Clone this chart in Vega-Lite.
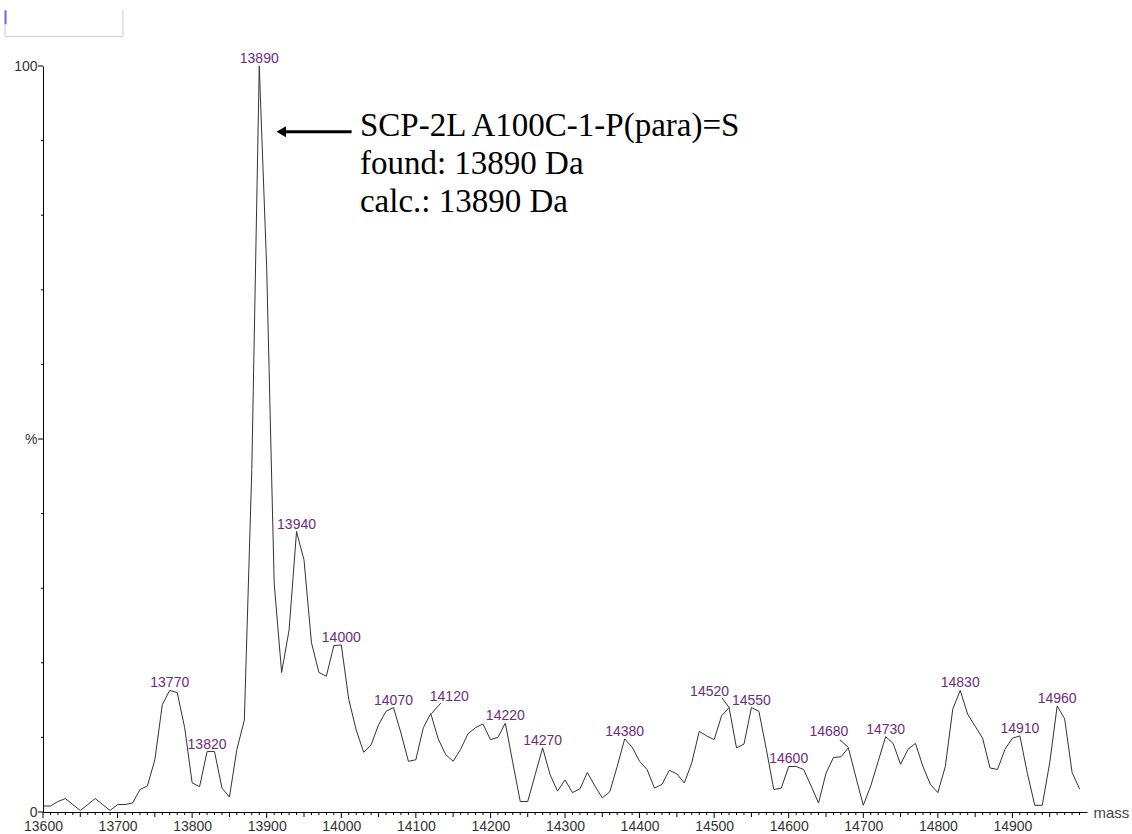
{
  "$schema": "https://vega.github.io/schema/vega-lite/v6.json",
  "width": 1044,
  "height": 746,
  "autosize": "none",
  "padding": {"left": 43, "top": 66, "right": 45, "bottom": 22},
  "background": "white",
  "config": {
    "view": {"stroke": null},
    "axis": {"labelFont": "Liberation Sans", "labelFontSize": 14, "labelColor": "#333", "domainColor": "#000", "grid": false, "domainWidth": 1, "labelOverlap": false, "labelFlush": false, "ticks": false}
  },
  "datasets": {
    "main": [
      {"mass": 13600, "value": 0.8}, {"mass": 13610, "value": 0.8}, {"mass": 13620, "value": 1.4}, {"mass": 13630, "value": 1.8},
      {"mass": 13640, "value": 1.0}, {"mass": 13650, "value": 0.2}, {"mass": 13660, "value": 1.0}, {"mass": 13670, "value": 1.8},
      {"mass": 13680, "value": 1.0}, {"mass": 13690, "value": 0.2}, {"mass": 13700, "value": 1.0}, {"mass": 13710, "value": 1.0},
      {"mass": 13720, "value": 1.2}, {"mass": 13730, "value": 3.0}, {"mass": 13740, "value": 3.5}, {"mass": 13750, "value": 7.0},
      {"mass": 13760, "value": 14.4}, {"mass": 13770, "value": 16.3}, {"mass": 13780, "value": 16.0}, {"mass": 13790, "value": 11.3},
      {"mass": 13800, "value": 3.9}, {"mass": 13810, "value": 3.4}, {"mass": 13820, "value": 8.1}, {"mass": 13830, "value": 8.1},
      {"mass": 13840, "value": 3.2}, {"mass": 13850, "value": 2.0}, {"mass": 13860, "value": 8.4}, {"mass": 13870, "value": 12.3},
      {"mass": 13880, "value": 45.9}, {"mass": 13890, "value": 100}, {"mass": 13900, "value": 72.8}, {"mass": 13910, "value": 30.7},
      {"mass": 13920, "value": 18.7}, {"mass": 13930, "value": 24.4}, {"mass": 13940, "value": 37.6}, {"mass": 13950, "value": 33.8},
      {"mass": 13960, "value": 22.7}, {"mass": 13970, "value": 18.7}, {"mass": 13980, "value": 18.2}, {"mass": 13990, "value": 22.3},
      {"mass": 14000, "value": 22.4}, {"mass": 14010, "value": 15.1}, {"mass": 14020, "value": 11.0}, {"mass": 14030, "value": 8.0},
      {"mass": 14040, "value": 9.0}, {"mass": 14050, "value": 11.7}, {"mass": 14060, "value": 13.5}, {"mass": 14070, "value": 14.0},
      {"mass": 14080, "value": 10.6}, {"mass": 14090, "value": 6.8}, {"mass": 14100, "value": 7.0}, {"mass": 14110, "value": 11.3},
      {"mass": 14120, "value": 13.2}, {"mass": 14130, "value": 9.8}, {"mass": 14140, "value": 7.7}, {"mass": 14150, "value": 6.8},
      {"mass": 14160, "value": 8.4}, {"mass": 14170, "value": 10.5}, {"mass": 14180, "value": 11.3}, {"mass": 14190, "value": 11.8},
      {"mass": 14200, "value": 9.7}, {"mass": 14210, "value": 10.0}, {"mass": 14220, "value": 11.9}, {"mass": 14230, "value": 6.6},
      {"mass": 14240, "value": 1.4}, {"mass": 14250, "value": 1.4}, {"mass": 14260, "value": 5.0}, {"mass": 14270, "value": 8.6},
      {"mass": 14280, "value": 5.0}, {"mass": 14290, "value": 2.8}, {"mass": 14300, "value": 4.3}, {"mass": 14310, "value": 2.6},
      {"mass": 14320, "value": 3.1}, {"mass": 14330, "value": 5.3}, {"mass": 14340, "value": 3.5}, {"mass": 14350, "value": 1.9},
      {"mass": 14360, "value": 2.7}, {"mass": 14370, "value": 6.1}, {"mass": 14380, "value": 9.8}, {"mass": 14390, "value": 8.7},
      {"mass": 14400, "value": 6.8}, {"mass": 14410, "value": 5.7}, {"mass": 14420, "value": 3.2}, {"mass": 14430, "value": 3.7},
      {"mass": 14440, "value": 5.6}, {"mass": 14450, "value": 5.1}, {"mass": 14460, "value": 3.9}, {"mass": 14470, "value": 6.6},
      {"mass": 14480, "value": 10.8}, {"mass": 14490, "value": 10.2}, {"mass": 14500, "value": 9.7}, {"mass": 14510, "value": 12.9},
      {"mass": 14520, "value": 14.0}, {"mass": 14530, "value": 8.6}, {"mass": 14540, "value": 9.1}, {"mass": 14550, "value": 14.0},
      {"mass": 14560, "value": 13.5}, {"mass": 14570, "value": 8.4}, {"mass": 14580, "value": 3.0}, {"mass": 14590, "value": 3.2},
      {"mass": 14600, "value": 6.1}, {"mass": 14610, "value": 6.1}, {"mass": 14620, "value": 5.7}, {"mass": 14630, "value": 3.5},
      {"mass": 14640, "value": 1.2}, {"mass": 14650, "value": 5.2}, {"mass": 14660, "value": 7.3}, {"mass": 14670, "value": 7.4},
      {"mass": 14680, "value": 8.6}, {"mass": 14690, "value": 4.7}, {"mass": 14700, "value": 0.9}, {"mass": 14710, "value": 3.5},
      {"mass": 14720, "value": 6.8}, {"mass": 14730, "value": 10.1}, {"mass": 14740, "value": 9.2}, {"mass": 14750, "value": 6.4},
      {"mass": 14760, "value": 8.4}, {"mass": 14770, "value": 9.2}, {"mass": 14780, "value": 6.1}, {"mass": 14790, "value": 3.7},
      {"mass": 14800, "value": 2.6}, {"mass": 14810, "value": 6.1}, {"mass": 14820, "value": 13.8}, {"mass": 14830, "value": 16.3},
      {"mass": 14840, "value": 13.1}, {"mass": 14850, "value": 11.5}, {"mass": 14860, "value": 9.9}, {"mass": 14870, "value": 5.9},
      {"mass": 14880, "value": 5.7}, {"mass": 14890, "value": 8.4}, {"mass": 14900, "value": 9.9}, {"mass": 14910, "value": 10.2},
      {"mass": 14920, "value": 5.2}, {"mass": 14930, "value": 0.9}, {"mass": 14940, "value": 0.9}, {"mass": 14950, "value": 6.6},
      {"mass": 14960, "value": 14.2}, {"mass": 14970, "value": 12.5}, {"mass": 14980, "value": 5.3}, {"mass": 14990, "value": 3.1}
    ],
    "peaks": [
      {"mass": 13770, "value": 16.3, "label": "13770"}, {"mass": 13820, "value": 8.1, "label": "13820"},
      {"mass": 13890, "value": 100, "label": "13890"}, {"mass": 13940, "value": 37.6, "label": "13940"},
      {"mass": 14000, "value": 22.4, "label": "14000"}, {"mass": 14070, "value": 14.0, "label": "14070"},
      {"mass": 14120, "value": 13.2, "label": "14120"}, {"mass": 14220, "value": 11.9, "label": "14220"},
      {"mass": 14270, "value": 8.6, "label": "14270"}, {"mass": 14380, "value": 9.8, "label": "14380"},
      {"mass": 14520, "value": 14.0, "label": "14520"}, {"mass": 14550, "value": 14.0, "label": "14550"},
      {"mass": 14600, "value": 6.1, "label": "14600"}, {"mass": 14680, "value": 8.6, "label": "14680"},
      {"mass": 14730, "value": 10.1, "label": "14730"}, {"mass": 14830, "value": 16.3, "label": "14830"},
      {"mass": 14910, "value": 10.2, "label": "14910"}, {"mass": 14960, "value": 14.2, "label": "14960"}
    ],
    "xticks": [
      {"mass": 13600}, {"mass": 13610}, {"mass": 13620}, {"mass": 13630}, {"mass": 13640}, {"mass": 13650}, {"mass": 13660}, {"mass": 13670}, {"mass": 13680}, {"mass": 13690},
      {"mass": 13700}, {"mass": 13710}, {"mass": 13720}, {"mass": 13730}, {"mass": 13740}, {"mass": 13750}, {"mass": 13760}, {"mass": 13770}, {"mass": 13780}, {"mass": 13790},
      {"mass": 13800}, {"mass": 13810}, {"mass": 13820}, {"mass": 13830}, {"mass": 13840}, {"mass": 13850}, {"mass": 13860}, {"mass": 13870}, {"mass": 13880}, {"mass": 13890},
      {"mass": 13900}, {"mass": 13910}, {"mass": 13920}, {"mass": 13930}, {"mass": 13940}, {"mass": 13950}, {"mass": 13960}, {"mass": 13970}, {"mass": 13980}, {"mass": 13990},
      {"mass": 14000}, {"mass": 14010}, {"mass": 14020}, {"mass": 14030}, {"mass": 14040}, {"mass": 14050}, {"mass": 14060}, {"mass": 14070}, {"mass": 14080}, {"mass": 14090},
      {"mass": 14100}, {"mass": 14110}, {"mass": 14120}, {"mass": 14130}, {"mass": 14140}, {"mass": 14150}, {"mass": 14160}, {"mass": 14170}, {"mass": 14180}, {"mass": 14190},
      {"mass": 14200}, {"mass": 14210}, {"mass": 14220}, {"mass": 14230}, {"mass": 14240}, {"mass": 14250}, {"mass": 14260}, {"mass": 14270}, {"mass": 14280}, {"mass": 14290},
      {"mass": 14300}, {"mass": 14310}, {"mass": 14320}, {"mass": 14330}, {"mass": 14340}, {"mass": 14350}, {"mass": 14360}, {"mass": 14370}, {"mass": 14380}, {"mass": 14390},
      {"mass": 14400}, {"mass": 14410}, {"mass": 14420}, {"mass": 14430}, {"mass": 14440}, {"mass": 14450}, {"mass": 14460}, {"mass": 14470}, {"mass": 14480}, {"mass": 14490},
      {"mass": 14500}, {"mass": 14510}, {"mass": 14520}, {"mass": 14530}, {"mass": 14540}, {"mass": 14550}, {"mass": 14560}, {"mass": 14570}, {"mass": 14580}, {"mass": 14590},
      {"mass": 14600}, {"mass": 14610}, {"mass": 14620}, {"mass": 14630}, {"mass": 14640}, {"mass": 14650}, {"mass": 14660}, {"mass": 14670}, {"mass": 14680}, {"mass": 14690},
      {"mass": 14700}, {"mass": 14710}, {"mass": 14720}, {"mass": 14730}, {"mass": 14740}, {"mass": 14750}, {"mass": 14760}, {"mass": 14770}, {"mass": 14780}, {"mass": 14790},
      {"mass": 14800}, {"mass": 14810}, {"mass": 14820}, {"mass": 14830}, {"mass": 14840}, {"mass": 14850}, {"mass": 14860}, {"mass": 14870}, {"mass": 14880}, {"mass": 14890},
      {"mass": 14900}, {"mass": 14910}, {"mass": 14920}, {"mass": 14930}, {"mass": 14940}, {"mass": 14950}, {"mass": 14960}, {"mass": 14970}, {"mass": 14980}, {"mass": 14990}
    ],
    "yticks": [
      {"value": 0}, {"value": 10}, {"value": 20}, {"value": 30}, {"value": 40}, {"value": 50}, {"value": 60}, {"value": 70}, {"value": 80}, {"value": 90}, {"value": 100}
    ],
    "leaders": [
      {"mass": 14121, "value": 13.2, "mass2": 14133.5, "value2": 14.6},
      {"mass": 14510.6, "value": 15.3, "mass2": 14520, "value2": 14.0},
      {"mass": 14668.4, "value": 9.7, "mass2": 14680.5, "value2": 8.6}
    ],
    "note": [
      {"mass": 14025, "value": 90.6, "text": "SCP-2L A100C-1-P(para)=S\nfound: 13890 Da\ncalc.: 13890 Da"}
    ],
    "arrowline": [
      {"mass": 13921, "value": 91.2, "mass2": 14013.8, "value2": 91.2}
    ],
    "arrowhead": [
      {"mass": 13919.5, "value": 91.2}
    ],
    "frame": [
      {"mass": 13549.1, "value": 107.46, "mass2": 13549.1, "value2": 103.98},
      {"mass": 13707.2, "value": 107.46, "mass2": 13707.2, "value2": 103.98},
      {"mass": 13549.1, "value": 103.98, "mass2": 13707.2, "value2": 103.98}
    ],
    "framebar": [
      {"mass": 13549.8, "value": 107.46, "mass2": 13549.8, "value2": 105.6}
    ]
  },
  "resolve": {"axis": {"x": "independent", "y": "independent"}},
  "layer": [
    {
      "data": {"name": "main"},
      "mark": {"type": "line", "color": "#333", "strokeWidth": 1, "interpolate": "linear"},
      "encoding": {
        "x": {
          "field": "mass", "type": "quantitative",
          "scale": {"domain": [13600, 15000], "nice": false, "zero": false},
          "axis": {
            "orient": "bottom",
            "values": [13600, 13700, 13800, 13900, 14000, 14100, 14200, 14300, 14400, 14500, 14600, 14700, 14800, 14900],
            "format": "d",
            "ticks": false,
            "labelPadding": 7,
            "domain": true,
            "title": "mass",
            "titleX": 1050,
            "titleY": 0,
            "titleAlign": "left",
            "titleBaseline": "middle",
            "titleAnchor": null,
            "titleFont": "Liberation Sans",
            "titleFontSize": 15,
            "titleFontWeight": "normal",
            "titleColor": "#444"
          }
        },
        "y": {
          "field": "value", "type": "quantitative",
          "scale": {"domain": [0, 100], "nice": false},
          "axis": {
            "orient": "left",
            "values": [0, 50, 100],
            "labelExpr": "datum.value === 50 ? '%' : datum.label",
            "ticks": false,
            "labelPadding": 6,
            "domain": true,
            "title": null
          }
        }
      }
    },
    {
      "data": {"name": "xticks"},
      "transform": [{"filter": "datum.mass % 50 !== 0"}],
      "mark": {"type": "rule", "color": "#000", "strokeWidth": 1, "y2Offset": 3},
      "encoding": {
        "x": {"field": "mass", "type": "quantitative", "scale": {"domain": [13600, 15000], "nice": false, "zero": false}, "axis": null},
        "y": {"datum": 0, "type": "quantitative", "scale": {"domain": [0, 100], "nice": false}, "axis": null},
        "y2": {"datum": 0}
      }
    },
    {
      "data": {"name": "xticks"},
      "transform": [{"filter": "datum.mass % 50 === 0 && datum.mass % 100 !== 0"}],
      "mark": {"type": "rule", "color": "#000", "strokeWidth": 1, "y2Offset": 5},
      "encoding": {
        "x": {"field": "mass", "type": "quantitative", "scale": {"domain": [13600, 15000], "nice": false, "zero": false}, "axis": null},
        "y": {"datum": 0, "type": "quantitative", "scale": {"domain": [0, 100], "nice": false}, "axis": null},
        "y2": {"datum": 0}
      }
    },
    {
      "data": {"name": "xticks"},
      "transform": [{"filter": "datum.mass % 100 === 0"}],
      "mark": {"type": "rule", "color": "#000", "strokeWidth": 1, "y2Offset": 6},
      "encoding": {
        "x": {"field": "mass", "type": "quantitative", "scale": {"domain": [13600, 15000], "nice": false, "zero": false}, "axis": null},
        "y": {"datum": 0, "type": "quantitative", "scale": {"domain": [0, 100], "nice": false}, "axis": null},
        "y2": {"datum": 0}
      }
    },
    {
      "data": {"name": "yticks"},
      "transform": [{"filter": "datum.value % 50 !== 0"}],
      "mark": {"type": "rule", "color": "#000", "strokeWidth": 1, "x2Offset": -2},
      "encoding": {
        "y": {"field": "value", "type": "quantitative", "scale": {"domain": [0, 100], "nice": false}, "axis": null},
        "x": {"datum": 13600, "type": "quantitative", "scale": {"domain": [13600, 15000], "nice": false, "zero": false}, "axis": null},
        "x2": {"datum": 13600}
      }
    },
    {
      "data": {"name": "yticks"},
      "transform": [{"filter": "datum.value % 50 === 0"}],
      "mark": {"type": "rule", "color": "#000", "strokeWidth": 1, "x2Offset": -5},
      "encoding": {
        "y": {"field": "value", "type": "quantitative", "scale": {"domain": [0, 100], "nice": false}, "axis": null},
        "x": {"datum": 13600, "type": "quantitative", "scale": {"domain": [13600, 15000], "nice": false, "zero": false}, "axis": null},
        "x2": {"datum": 13600}
      }
    },
    {
      "data": {"name": "peaks"},
      "transform": [{"filter": "indexof([14120, 14520, 14680], datum.mass) < 0"}],
      "mark": {"type": "text", "font": "Liberation Sans", "fontSize": 14, "color": "#6b2d7b", "align": "center", "baseline": "alphabetic", "dy": -3},
      "encoding": {
        "x": {"field": "mass", "type": "quantitative", "scale": {"domain": [13600, 15000], "nice": false, "zero": false}, "axis": null},
        "y": {"field": "value", "type": "quantitative", "scale": {"domain": [0, 100], "nice": false}, "axis": null},
        "text": {"field": "label", "type": "nominal"}
      }
    },
    {
      "data": {"name": "peaks"},
      "transform": [{"filter": "datum.mass === 14120"}],
      "mark": {"type": "text", "font": "Liberation Sans", "fontSize": 14, "color": "#6b2d7b", "align": "left", "baseline": "alphabetic", "dx": -1, "dy": -13},
      "encoding": {
        "x": {"field": "mass", "type": "quantitative", "scale": {"domain": [13600, 15000], "nice": false, "zero": false}, "axis": null},
        "y": {"field": "value", "type": "quantitative", "scale": {"domain": [0, 100], "nice": false}, "axis": null},
        "text": {"field": "label", "type": "nominal"}
      }
    },
    {
      "data": {"name": "peaks"},
      "transform": [{"filter": "datum.mass === 14520 || datum.mass === 14680"}],
      "mark": {"type": "text", "font": "Liberation Sans", "fontSize": 14, "color": "#6b2d7b", "align": "right", "baseline": "alphabetic", "dx": 0, "dy": -12},
      "encoding": {
        "x": {"field": "mass", "type": "quantitative", "scale": {"domain": [13600, 15000], "nice": false, "zero": false}, "axis": null},
        "y": {"field": "value", "type": "quantitative", "scale": {"domain": [0, 100], "nice": false}, "axis": null},
        "text": {"field": "label", "type": "nominal"}
      }
    },
    {
      "data": {"name": "leaders"},
      "mark": {"type": "rule", "color": "#333", "strokeWidth": 1},
      "encoding": {
        "x": {"field": "mass", "type": "quantitative", "scale": {"domain": [13600, 15000], "nice": false, "zero": false}, "axis": null},
        "y": {"field": "value", "type": "quantitative", "scale": {"domain": [0, 100], "nice": false}, "axis": null},
        "x2": {"field": "mass2"}, "y2": {"field": "value2"}
      }
    },
    {
      "data": {"name": "note"},
      "mark": {"type": "text", "font": "Liberation Serif", "fontSize": 33, "lineHeight": 38, "lineBreak": "\n", "color": "#000", "align": "left", "baseline": "alphabetic"},
      "encoding": {
        "x": {"field": "mass", "type": "quantitative", "scale": {"domain": [13600, 15000], "nice": false, "zero": false}, "axis": null},
        "y": {"field": "value", "type": "quantitative", "scale": {"domain": [0, 100], "nice": false}, "axis": null},
        "text": {"field": "text", "type": "nominal"}
      }
    },
    {
      "data": {"name": "arrowline"},
      "mark": {"type": "rule", "color": "#000", "strokeWidth": 3},
      "encoding": {
        "x": {"field": "mass", "type": "quantitative", "scale": {"domain": [13600, 15000], "nice": false, "zero": false}, "axis": null},
        "y": {"field": "value", "type": "quantitative", "scale": {"domain": [0, 100], "nice": false}, "axis": null},
        "x2": {"field": "mass2"}, "y2": {"field": "value2"}
      }
    },
    {
      "data": {"name": "arrowhead"},
      "mark": {"type": "point", "shape": "triangle-left", "filled": true, "color": "#000", "size": 120, "opacity": 1},
      "encoding": {
        "x": {"field": "mass", "type": "quantitative", "scale": {"domain": [13600, 15000], "nice": false, "zero": false}, "axis": null},
        "y": {"field": "value", "type": "quantitative", "scale": {"domain": [0, 100], "nice": false}, "axis": null}
      }
    },
    {
      "data": {"name": "frame"},
      "mark": {"type": "rule", "color": "#c8c8c8", "strokeWidth": 1},
      "encoding": {
        "x": {"field": "mass", "type": "quantitative", "scale": {"domain": [13600, 15000], "nice": false, "zero": false}, "axis": null},
        "y": {"field": "value", "type": "quantitative", "scale": {"domain": [0, 100], "nice": false}, "axis": null},
        "x2": {"field": "mass2"}, "y2": {"field": "value2"}
      }
    },
    {
      "data": {"name": "framebar"},
      "mark": {"type": "rule", "color": "#8a5cf0", "strokeWidth": 2},
      "encoding": {
        "x": {"field": "mass", "type": "quantitative", "scale": {"domain": [13600, 15000], "nice": false, "zero": false}, "axis": null},
        "y": {"field": "value", "type": "quantitative", "scale": {"domain": [0, 100], "nice": false}, "axis": null},
        "x2": {"field": "mass2"}, "y2": {"field": "value2"}
      }
    }
  ]
}
